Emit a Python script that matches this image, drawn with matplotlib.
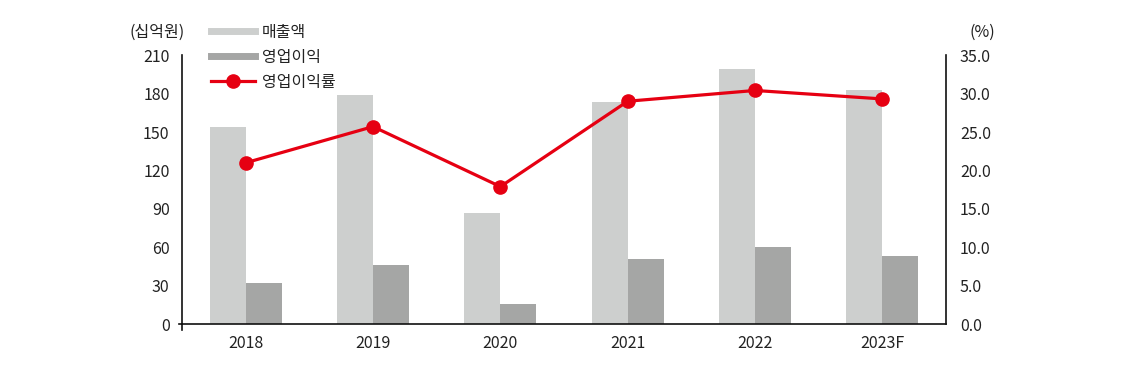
import matplotlib
matplotlib.use("Agg")
import matplotlib.pyplot as plt
import numpy as np
from matplotlib.lines import Line2D

plt.rcParams['font.family'] = ['Noto Sans CJK KR', 'DejaVu Sans']

# 데이터
years = ['2018', '2019', '2020', '2021', '2022', '2023F']
sales = [153.9, 178.9, 86.8, 173.4, 199.2, 182.8]        # 매출액 (십억원)
op_income = [32.2, 46.3, 15.8, 50.9, 60.3, 53.3]         # 영업이익 (십억원)
op_margin = [21.0, 25.7, 17.9, 29.0, 30.4, 29.3]         # 영업이익률 (%)

left_ticks = [0, 30, 60, 90, 120, 150, 180, 210]
right_ticks = [0, 5, 10, 15, 20, 25, 30, 35]

c_sales = '#CDCFCE'
c_op = '#A5A6A5'
c_line = '#E60012'
c_text = '#222222'

fig = plt.figure(figsize=(11.35, 3.73), dpi=100)
ax = fig.add_axes([0.1604, 0.1306, 0.6731, 0.7217])
ax2 = ax.twinx()

x = np.arange(len(years))
w = 0.283
ax.bar(x - w / 2, sales, width=w, color=c_sales, zorder=2)
ax.bar(x + w / 2, op_income, width=w, color=c_op, zorder=2)

ax.set_xlim(-0.5, len(years) - 0.5)
ax.set_ylim(0, 210)
ax.set_yticks(left_ticks)
ax.set_yticklabels([str(t) for t in left_ticks])
ax.set_xticks(x)
ax.set_xticklabels(years)

ax2.plot(x, op_margin, color=c_line, lw=2.3, marker='o', ms=9.5, zorder=5)
ax2.set_ylim(0, 35)
ax2.set_yticks(right_ticks)
ax2.set_yticklabels([f'{t:.1f}' for t in right_ticks])

fs = 11.5
for a in (ax, ax2):
    a.spines['top'].set_visible(False)
    for s in a.spines.values():
        s.set_linewidth(1.2)
        s.set_color('#111111')
    a.tick_params(length=0, labelsize=fs, colors=c_text)
ax.tick_params(axis='y', pad=9)
ax.tick_params(axis='x', pad=8)
ax2.tick_params(axis='y', pad=10)
ax2.spines['left'].set_visible(False)
ax2.spines['bottom'].set_visible(False)
ax.spines['right'].set_visible(False)

# 원점 부근 짧은 눈금
ax.plot([-0.004, 0], [0, 0], transform=ax.transAxes, color='#111111', lw=1.2, clip_on=False)
ax.plot([0, 0], [0, -0.022], transform=ax.transAxes, color='#111111', lw=1.2, clip_on=False)

# 단위
fig.text(157 / 1135, 1 - 32 / 373, '(십억원)', ha='center', va='center', fontsize=fs, color=c_text)
fig.text(982 / 1135, 1 - 32 / 373, '(%)', ha='center', va='center', fontsize=fs, color=c_text)

handles = [
    Line2D([0], [0], color=c_sales, lw=5),
    Line2D([0], [0], color=c_op, lw=5),
    Line2D([0], [0], color=c_line, lw=2.3, marker='o', ms=9.5),
]
labels = ['매출액', '영업이익', '영업이익률']
fig.legend(handles, labels, loc='upper left', bbox_to_anchor=(211 / 1135, 1 - 24 / 373),
           frameon=False, fontsize=fs, handlelength=2.75, handletextpad=0.45,
           labelspacing=0.5, borderpad=0, borderaxespad=0, labelcolor=c_text)

fig.savefig('out.png', dpi=100)
